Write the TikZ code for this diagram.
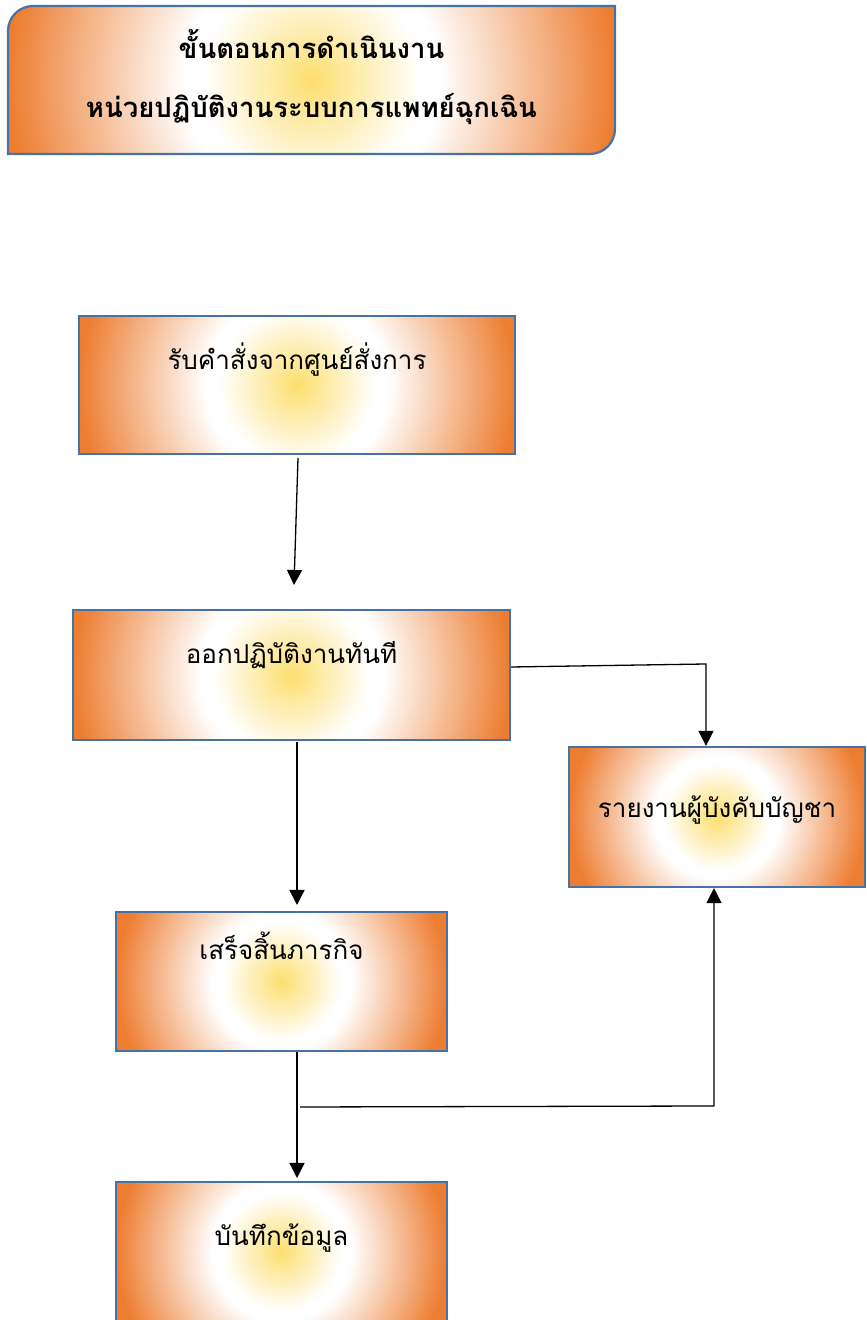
\documentclass[tikz,border=0pt]{standalone}
\usepackage{fontspec}
\newfontfamily\thaifont[Script=Thai]{Loma}
\usetikzlibrary{arrows.meta,calc}
\definecolor{glowy}{RGB}{253,222,110}
\definecolor{glowo}{RGB}{237,125,49}
\definecolor{edgeblue}{RGB}{71,114,167}
\pgfdeclareradialshading{glow}{\pgfpoint{0bp}{0bp}}{color(0bp)=(glowy); color(4bp)=(glowy!55!white); color(9bp)=(white); color(10.5bp)=(white); color(25bp)=(glowo); color(50bp)=(glowo)}
\tikzset{
  x=1pt,y=1pt,
  stagebox/.style 2 args={rectangle, draw=edgeblue, line width=2.2pt, minimum width=#1, minimum height=#2, inner sep=0pt,
    path picture={\shade[shading=glow] ([shift={(-#1/2,-#1/2)}]path picture bounding box.center) rectangle ++(#1,#1);}},
  boxtext/.style={font=\thaifont\fontsize{26}{30}\selectfont, text=black},
  conn/.style={draw=black, line width=1.3pt},
  arr/.style={conn, -{Triangle[width=15pt,length=15pt]}},
}
\begin{document}
\begin{tikzpicture}
\useasboundingbox (0,0) rectangle (867,1320);
% title
\begin{scope}
\clip (8,1166) -- (8,1289) arc[start angle=180,end angle=90,radius=25] -- (615,1314) -- (615,1191) arc[start angle=0,end angle=-90,radius=25] -- cycle;
\shade[shading=glow] (311.5-303.5,1240-303.5) rectangle ++(607,607);
\end{scope}
\draw[draw=edgeblue, line width=2.2pt] (8,1166) -- (8,1289) arc[start angle=180,end angle=90,radius=25] -- (615,1314) -- (615,1191) arc[start angle=0,end angle=-90,radius=25] -- cycle;
\node (title) at (311.5,1243) [align=center, font=\thaifont\bfseries\fontsize{27.5}{59}\selectfont] {ขั้นตอนการดำเนินงาน\\หน่วยปฏิบัติงานระบบการแพทย์ฉุกเฉิน};
% boxes
\node (b1) at (297,935) [stagebox={436pt}{138pt}, label={[boxtext,yshift=25pt]center:รับคำสั่งจากศูนย์สั่งการ}] {};
\node (b2) at (291.5,645) [stagebox={437pt}{130pt}, label={[boxtext,yshift=20pt]center:ออกปฏิบัติงานทันที}] {};
\node (b3) at (717,503) [stagebox={296pt}{140pt}, label={[boxtext,yshift=7pt]center:รายงานผู้บังคับบัญชา}] {};
\node (b4) at (281.5,338.5) [stagebox={331pt}{139pt}, label={[boxtext,yshift=36pt]center:เสร็จสิ้นภารกิจ}] {};
\node (b5) at (281.5,68.5) [stagebox={331pt}{139pt}, label={[boxtext,yshift=13pt]center:บันทึกข้อมูล}] {};
% connectors
\coordinate (a1s) at (298,862);
\coordinate (a1e) at (294,735);
\draw[arr] (a1s) -- (a1e);
\coordinate (a2k) at (706,656);
\draw[arr] ([yshift=8pt]b2.east) -- (a2k) -- (a2k |- b3.north);
\coordinate (a3s) at (297,578);
\coordinate (a3e) at (297,415);
\draw[arr] (a3s) -- (a3e);
\coordinate (a4e) at (297,142);
\draw[arr] (a4e |- b4.south) -- (a4e);
\coordinate (a5s) at (300,213);
\coordinate (a5k) at (714,214);
\draw[arr] (a5s) -- (a5k) -- (a5k |- b3.south);
\end{tikzpicture}
\end{document}
